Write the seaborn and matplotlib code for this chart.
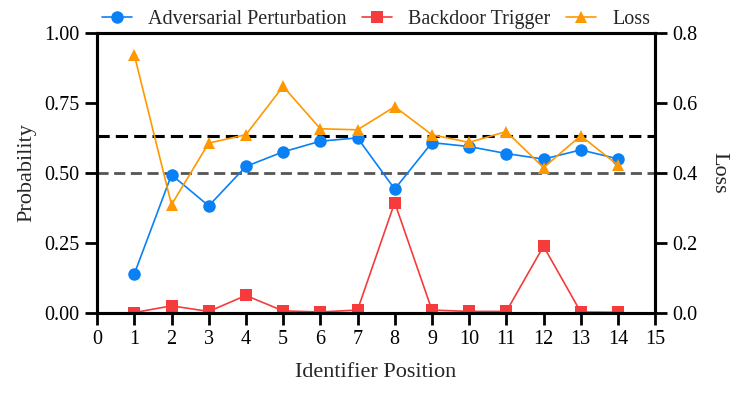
import matplotlib
matplotlib.use('Agg')
import matplotlib.pyplot as plt
import seaborn as sns
import pandas as pd

# data
positions = list(range(1, 15))
adv_prob = [0.139, 0.493, 0.382, 0.523, 0.575, 0.613, 0.625, 0.442,
            0.608, 0.594, 0.569, 0.549, 0.582, 0.550]
backdoor_prob = [0.001, 0.025, 0.005, 0.062, 0.007, 0.003, 0.010, 0.394,
                 0.010, 0.005, 0.005, 0.238, 0.003, 0.002]
loss = [0.737, 0.309, 0.485, 0.509, 0.647, 0.526, 0.523, 0.589,
        0.509, 0.487, 0.518, 0.415, 0.506, 0.422]
ref_high = 0.632
ref_mid = 0.5

df = pd.DataFrame({'pos': positions, 'adv': adv_prob,
                   'bd': backdoor_prob, 'loss': loss})

sns.set_style('ticks')
plt.rcParams['font.family'] = ['Liberation Serif', 'DejaVu Serif']
plt.rcParams['font.size'] = 14.5

blue = '#0a80f5'
red = '#f53b3b'
orange = '#ff9800'

fig, ax = plt.subplots(figsize=(7.47, 3.96), dpi=100)
ax2 = ax.twinx()

ax.axhline(ref_high, color='black', ls=(0, (4, 2)), lw=2.2, zorder=1)
ax.axhline(ref_mid, color='#555555', ls=(0, (4, 2)), lw=2.0, zorder=1)

sns.lineplot(data=df, x='pos', y='adv', ax=ax, color=blue, marker='o',
             markersize=9, markeredgewidth=0, lw=1.2,
             label='Adversarial Perturbation', legend=False)
sns.lineplot(data=df, x='pos', y='bd', ax=ax, color=red, marker='s',
             markersize=8, markeredgewidth=0, lw=1.2,
             label='Backdoor Trigger', legend=False)
sns.lineplot(data=df, x='pos', y='loss', ax=ax2, color=orange, marker='^',
             markersize=8.5, markeredgewidth=0, lw=1.2,
             label='Loss', legend=False)

ax.set_xlim(0, 15)
ax.set_xticks(range(0, 16))
ax.set_ylim(0, 1.0)
ax.set_yticks([0, 0.25, 0.5, 0.75, 1.0])
ax.set_yticklabels(['0.00', '0.25', '0.50', '0.75', '1.00'])
ax2.set_ylim(0, 0.8)
ax2.set_yticks([0, 0.2, 0.4, 0.6, 0.8])
ax2.set_yticklabels(['0.0', '0.2', '0.4', '0.6', '0.8'])

ax.set_xlabel('Identifier Position', fontsize=16, labelpad=10)
ax.set_ylabel('Probability', fontsize=16, labelpad=6)
ax2.set_ylabel('Loss', fontsize=16, rotation=270, labelpad=22)

for a in (ax, ax2):
    for s in a.spines.values():
        s.set_linewidth(2.2)
        s.set_color('black')
    a.tick_params(width=2, length=8.5, pad=4, direction='out', colors='black',
                  labelsize=14.5)

h1, l1 = ax.get_legend_handles_labels()
h2, l2 = ax2.get_legend_handles_labels()
ax.legend(h1 + h2, l1 + l2, loc='lower center', bbox_to_anchor=(0.5, 0.985),
          ncol=3, frameon=False, fontsize=14.5, handlelength=1.5,
          columnspacing=0.75, handletextpad=0.8, borderaxespad=0)

fig.subplots_adjust(left=0.13, right=0.877, top=0.917, bottom=0.21)
fig.savefig('out.png', dpi=100)
